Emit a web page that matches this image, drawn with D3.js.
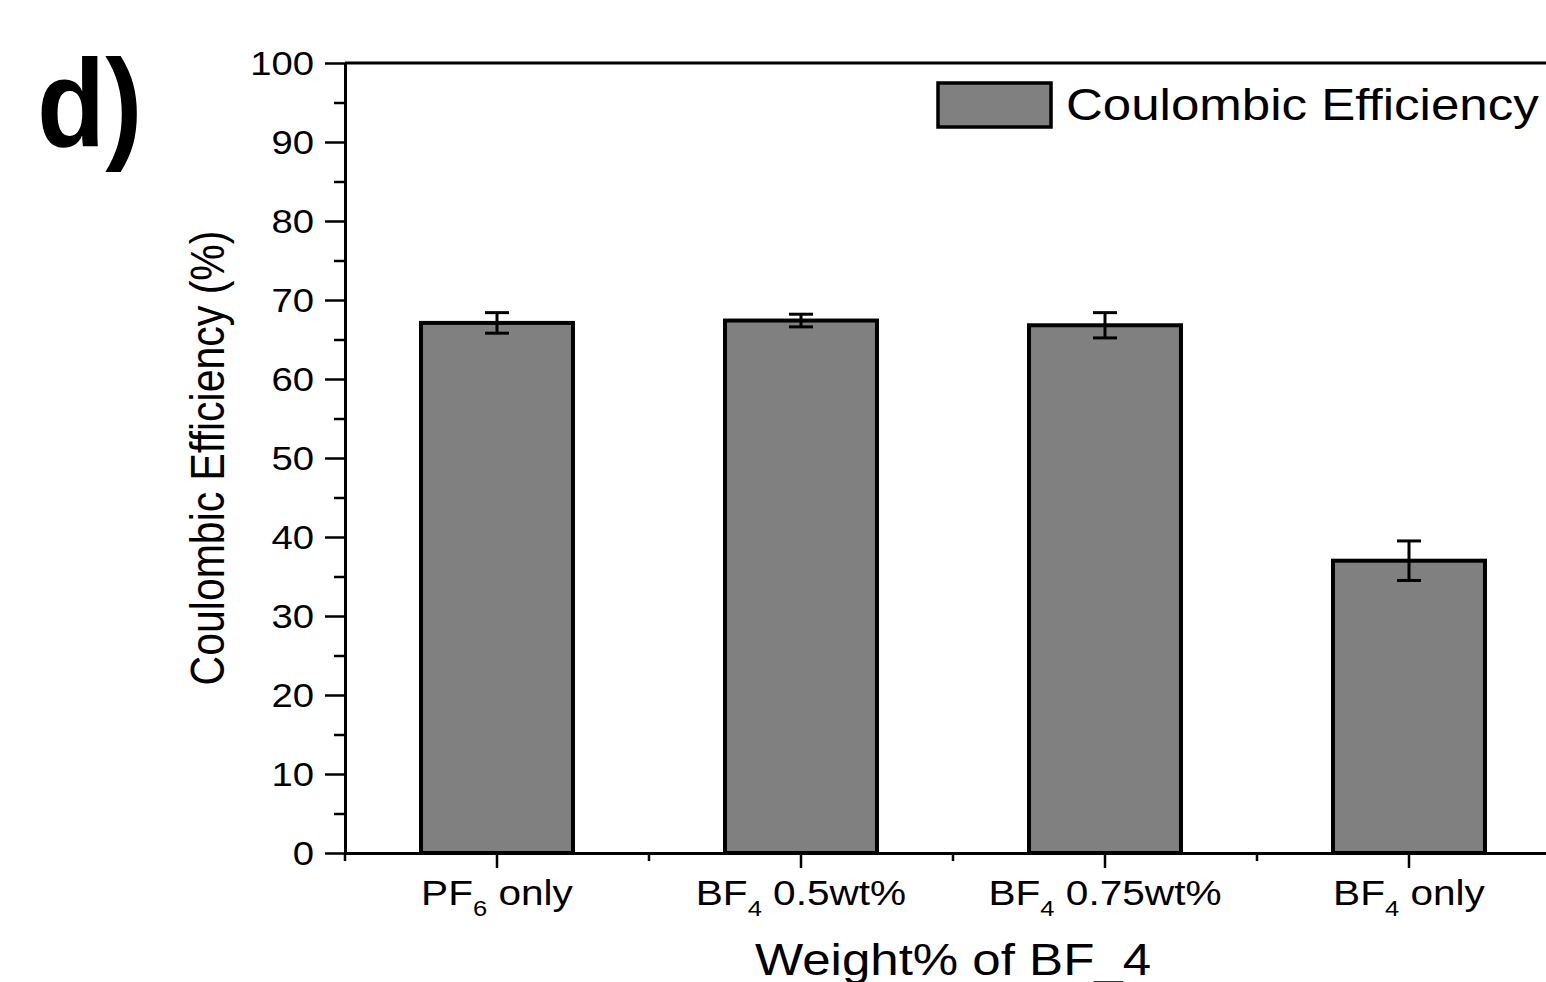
<!DOCTYPE html>
<html>
<head>
<meta charset="utf-8">
<script src="https://cdn.jsdelivr.net/npm/d3@7"></script>
<style>
  body { margin: 0; background: #fff; overflow: hidden; }
  text { font-family: "Liberation Sans", Arial, sans-serif; fill: #000; }
</style>
</head>
<body>
<script>
// category labels, "_" marks the subscript digit
var categories = ['PF_6 only', 'BF_4 0.5wt%', 'BF_4 0.75wt%', 'BF_4 only'];
var efficiency = [67.1, 67.4, 66.8, 37.0];
var errors = [1.3, 0.8, 1.6, 2.5];
var yTicks = [0, 10, 20, 30, 40, 50, 60, 70, 80, 90, 100];

var svgWidth = 1546;
var svgHeight = 982;
// the original text is a bit stretched sideways
var stretch = 1.16;

var svg = d3.select('body')
  .append('svg')
  .attr('width', svgWidth)
  .attr('height', svgHeight);

// plot area (right edge runs off the page like the original)
var plotLeft = 345, plotTop = 63, plotBottom = 853, plotRight = 1561;

var xScale = d3.scaleBand()
  .domain(categories)
  .range([plotLeft, plotRight])
  .paddingInner(0.5)
  .paddingOuter(0.25);

var yScale = d3.scaleLinear()
  .domain([0, 100])
  .range([plotBottom, plotTop]);

// panel letter
svg.append('text')
  .attr('transform', 'translate(37,146) scale(0.9,1)')
  .style('font-size', '124px')
  .style('font-weight', 'bold')
  .text('d)');

// bars
svg.selectAll('.bar')
  .data(efficiency)
  .enter()
  .append('rect')
  .attr('class', 'bar')
  .attr('x', (d, i) => xScale(categories[i]))
  .attr('y', d => yScale(d))
  .attr('width', xScale.bandwidth())
  .attr('height', d => yScale(0) - yScale(d))
  .attr('fill', '#808080')
  .attr('stroke', '#000')
  .attr('stroke-width', 4);

// error bars
var cap = 12;
var cx = (d, i) => xScale(categories[i]) + xScale.bandwidth() / 2;
var errG = svg.selectAll('.err')
  .data(efficiency)
  .enter()
  .append('g')
  .attr('class', 'err')
  .attr('stroke', '#000')
  .attr('stroke-width', 3);

errG.append('line')
  .attr('x1', cx)
  .attr('x2', cx)
  .attr('y1', (d, i) => yScale(d + errors[i]))
  .attr('y2', (d, i) => yScale(d - errors[i]));
errG.append('line')
  .attr('x1', (d, i) => cx(d, i) - cap)
  .attr('x2', (d, i) => cx(d, i) + cap)
  .attr('y1', (d, i) => yScale(d + errors[i]))
  .attr('y2', (d, i) => yScale(d + errors[i]));
errG.append('line')
  .attr('x1', (d, i) => cx(d, i) - cap)
  .attr('x2', (d, i) => cx(d, i) + cap)
  .attr('y1', (d, i) => yScale(d - errors[i]))
  .attr('y2', (d, i) => yScale(d - errors[i]));

// y axis, minor ticks first
var yMinor = d3.range(5, 100, 10);
svg.append('g')
  .attr('transform', `translate(${plotLeft},0)`)
  .call(d3.axisLeft(yScale).tickValues(yMinor).tickSize(11).tickFormat(''))
  .call(g => g.select('.domain').remove())
  .call(g => g.selectAll('line').attr('stroke-width', 2.5));

var yAxis = svg.append('g')
  .attr('transform', `translate(${plotLeft},0)`)
  .call(d3.axisLeft(yScale).tickValues(yTicks).tickSize(20).tickSizeOuter(0));
yAxis.select('.domain').attr('stroke-width', 3);
yAxis.selectAll('line').attr('stroke-width', 2.5);
yAxis.selectAll('text')
  .attr('x', null)
  .attr('dy', '0.36em')
  .attr('transform', `translate(-31,0) scale(${stretch},1)`)
  .style('font-size', '33px')
  .style('font-family', '"Liberation Sans", Arial, sans-serif');

// x axis minor ticks between categories
var xMinorVals = categories.map(c => xScale(c) - xScale.step() * 0.25);
svg.append('g')
  .selectAll('line')
  .data(xMinorVals)
  .enter()
  .append('line')
  .attr('x1', d => d).attr('x2', d => d)
  .attr('y1', plotBottom).attr('y2', plotBottom + 8)
  .attr('stroke', '#000')
  .attr('stroke-width', 2.5);

var xAxis = svg.append('g')
  .attr('transform', `translate(0,${plotBottom})`)
  .call(d3.axisBottom(xScale).tickSize(15).tickSizeOuter(0).tickFormat(''));
xAxis.select('.domain').attr('stroke-width', 3);
xAxis.selectAll('line').attr('stroke-width', 2.5);

// tick labels with subscripts
xAxis.selectAll('.tick').append('text')
  .attr('transform', `translate(0,52) scale(${stretch},1)`)
  .attr('text-anchor', 'middle')
  .style('font-size', '35px')
  .style('font-family', '"Liberation Sans", Arial, sans-serif')
  .attr('fill', '#000')
  .each(function (d) {
    var m = d.match(/^([A-Z]+)_(\d)(.*)$/);
    var t = d3.select(this);
    t.append('tspan').text(m[1]);
    t.append('tspan').attr('dy', 11).style('font-size', '22px').text(m[2]);
    t.append('tspan').attr('dy', -11).text(m[3]);
  });

// top frame line
svg.append('line')
  .attr('x1', plotLeft).attr('x2', plotRight)
  .attr('y1', plotTop).attr('y2', plotTop)
  .attr('stroke', '#000')
  .attr('stroke-width', 3);

// axis titles
svg.append('text')
  .attr('transform', `translate(224,${(plotTop + plotBottom) / 2}) rotate(-90) scale(1,${stretch})`)
  .attr('text-anchor', 'middle')
  .style('font-size', '41px')
  .text('Coulombic Efficiency (%)');

svg.append('text')
  .attr('transform', `translate(953,975) scale(${stretch},1)`)
  .attr('text-anchor', 'middle')
  .style('font-size', '44px')
  .text('Weight% of BF_4');

// legend
svg.append('rect')
  .attr('x', 938).attr('y', 83)
  .attr('width', 113).attr('height', 44)
  .attr('fill', '#808080')
  .attr('stroke', '#000')
  .attr('stroke-width', 3.5);
svg.append('text')
  .attr('transform', `translate(1066,120) scale(${stretch},1)`)
  .style('font-size', '44px')
  .text('Coulombic Efficiency');
</script>
</body>
</html>
